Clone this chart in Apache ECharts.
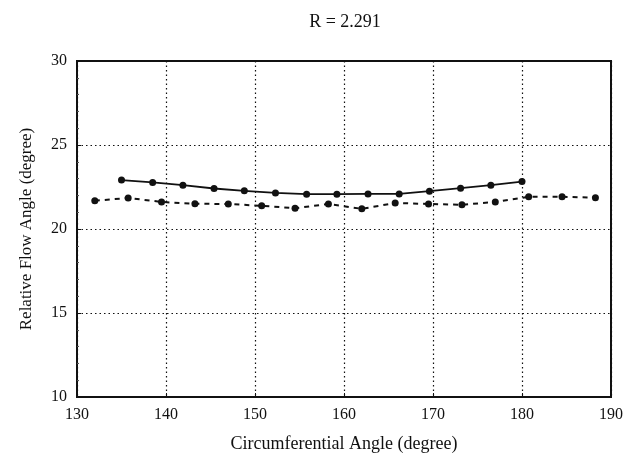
<!DOCTYPE html>
<html>
<head>
<meta charset="utf-8">
<script src="https://cdn.jsdelivr.net/npm/echarts@6/dist/echarts.min.js"></script>
<style>
html,body{margin:0;padding:0;background:#fff;}
#c{width:626px;height:467px;}
</style>
</head>
<body>
<div id="c"></div>
<script>
var titleText = 'R = 2.291';
var xTicks = [130, 140, 150, 160, 170, 180, 190];
var yTicks = [10, 15, 20, 25, 30];
var solidX = [135, 138.5, 141.9, 145.4, 148.8, 152.3, 155.8, 159.2, 162.7, 166.2, 169.6, 173.1, 176.5, 180];
var solidY = [22.91, 22.77, 22.61, 22.41, 22.27, 22.15, 22.07, 22.07, 22.09, 22.09, 22.25, 22.43, 22.61, 22.82];
var dashX = [132, 135.75, 139.5, 143.25, 147, 150.75, 154.5, 158.25, 162, 165.75, 169.5, 173.25, 177, 180.75, 184.5, 188.25];
var dashY = [21.68, 21.85, 21.61, 21.5, 21.49, 21.38, 21.24, 21.49, 21.2, 21.55, 21.49, 21.44, 21.61, 21.92, 21.92, 21.86];

function pairs(xs, ys){ return xs.map(function(v,i){return [v, ys[i]];}); }

var font = 'Liberation Serif';
var chart = echarts.init(document.getElementById('c'), null, {renderer:'canvas'});
chart.setOption({
  animation:false,
  backgroundColor:'#fff',
  title:{text:titleText, left:340, top:8, textAlign:'center',
    textStyle:{fontFamily:font, fontSize:18, fontWeight:'normal', color:'#111'}},
  grid:{left:77, right:15, top:61, bottom:70, show:true, borderColor:'#111', borderWidth:2, backgroundColor:'transparent'},
  xAxis:{type:'value', min:xTicks[0], max:xTicks[xTicks.length-1], interval:10,
    name:'Circumferential Angle (degree)', nameLocation:'middle', nameGap:38,
    nameTextStyle:{fontFamily:font, fontSize:18, color:'#111'},
    axisLine:{show:true, lineStyle:{color:'#111', width:2}},
    axisTick:{show:true, inside:true, length:4, lineStyle:{color:'#111'}},
    axisLabel:{fontFamily:font, fontSize:16, color:'#111', margin:10},
    splitLine:{show:true, lineStyle:{color:'#111', type:[1.5,3], width:1.2}}},
  yAxis:{type:'value', min:yTicks[0], max:yTicks[yTicks.length-1], interval:5,
    name:'Relative Flow Angle (degree)', nameLocation:'middle', nameGap:42,
    nameTextStyle:{fontFamily:font, fontSize:17, color:'#111'},
    axisLine:{show:true, lineStyle:{color:'#111', width:2}},
    axisTick:{show:true, inside:true, length:4, lineStyle:{color:'#111'}},
    minorTick:{show:true, splitNumber:5, length:2, lineStyle:{color:'#555'}},
    axisLabel:{fontFamily:font, fontSize:16, color:'#111', margin:10},
    splitLine:{show:true, lineStyle:{color:'#111', type:[1.5,3], width:1.2}}},
  series:[
    {type:'line', data:pairs(solidX, solidY), symbol:'circle', symbolSize:7,
     lineStyle:{color:'#111', width:1.8}, itemStyle:{color:'#111'}},
    {type:'line', data:pairs(dashX, dashY), symbol:'circle', symbolSize:7,
     lineStyle:{color:'#111', width:2, type:[5,5]}, itemStyle:{color:'#111'}}
  ]
});
</script>
</body>
</html>
